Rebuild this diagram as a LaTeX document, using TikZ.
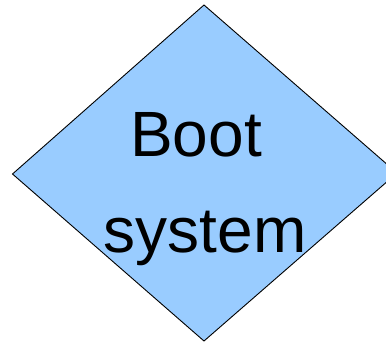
\documentclass[tikz,border=0pt]{standalone}
\usepackage{fontspec}
\setmainfont{Liberation Sans}
\definecolor{decisionblue}{HTML}{99CCFF}
\begin{document}
\begin{tikzpicture}[x=1pt,y=-1pt,
  decision/.style={draw=black,fill=decisionblue,line width=0.9pt,line join=miter},
  label/.style={font=\fontsize{64}{64}\selectfont,anchor=base,inner sep=0pt}]
  \useasboundingbox (0,0) rectangle (386,342);
  % corners of the decision diamond (right tip runs past the edge)
  \coordinate (top) at (204,5);
  \coordinate (left) at (12.5,174);
  \coordinate (right) at (397,173);
  \coordinate (bottom) at (204,341);
  \draw[decision] (top) -- (right) -- (bottom) -- (left) -- cycle;
  \node[label] (boot) at (196,157) {Boot};
  \node[label] (system) at (205,252) {system};
\end{tikzpicture}
\end{document}
